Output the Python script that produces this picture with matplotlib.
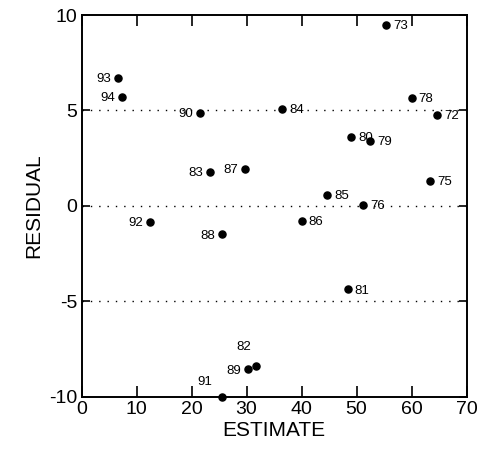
import matplotlib.pyplot as plt

# residuals vs estimate, labelled by id
ids = ['93', '94', '90', '84', '73', '78', '72', '80', '79', '83', '87', '85',
       '76', '75', '92', '88', '86', '81', '82', '89', '91']
estimate = [6.6, 7.3, 21.5, 36.5, 55.4, 60.0, 64.7, 49.0, 52.5, 23.3, 29.7, 44.7,
            51.2, 63.4, 12.5, 25.6, 40.0, 48.4, 31.8, 30.2, 25.6]
residual = [6.72, 5.72, 4.88, 5.09, 9.5, 5.67, 4.78, 3.62, 3.41, 1.78, 1.94, 0.58,
            0.05, 1.31, -0.82, -1.49, -0.79, -4.37, -8.38, -8.56, -10.0]
# where each label sits relative to its point
side = ['l', 'l', 'l', 'r', 'r', 'r', 'r', 'r', 'r', 'l', 'l', 'r',
        'r', 'r', 'l', 'l', 'r', 'r', 'u', 'l', 'ul']

ref_lines = [5, 0, -5]


def main():
    plt.rcParams['font.family'] = ['Liberation Sans', 'DejaVu Sans']
    plt.rcParams['axes.unicode_minus'] = False
    fig = plt.figure(figsize=(4.8, 4.58), dpi=100)
    ax = fig.add_axes([0.170, 0.134, 0.802, 0.833])

    for y in ref_lines:
        ax.axhline(y, color='black', lw=1.0, linestyle=(0, (1, 5)), zorder=1)

    ax.scatter(estimate, residual, s=26, color='black', zorder=3, clip_on=False)

    fs = 9.5
    for lab, x, y, s in zip(ids, estimate, residual, side):
        if s == 'r':
            ax.annotate(lab, (x, y), xytext=(5, -1), textcoords='offset points',
                        ha='left', va='center', fontsize=fs)
        elif s == 'l':
            ax.annotate(lab, (x, y), xytext=(-5, -1), textcoords='offset points',
                        ha='right', va='center', fontsize=fs)
        elif s == 'u':
            ax.annotate(lab, (x, y), xytext=(-4, 9), textcoords='offset points',
                        ha='right', va='bottom', fontsize=fs)
        else:
            ax.annotate(lab, (x, y), xytext=(-7, 6), textcoords='offset points',
                        ha='right', va='bottom', fontsize=fs)

    ax.set_xlim(0, 70)
    ax.set_ylim(-10, 10)
    ax.set_xticks(range(0, 71, 10))
    ax.set_yticks([-10, -5, 0, 5, 10])
    ax.tick_params(axis='x', direction='in', length=8, width=1.2, top=True,
                   labelsize=14, pad=3)
    ax.tick_params(axis='y', direction='in', length=6, width=1.2, right=True,
                   labelsize=14, pad=3)
    for sp in ax.spines.values():
        sp.set_linewidth(1.4)

    ax.set_xlabel('ESTIMATE', fontsize=15, labelpad=2)
    ax.set_ylabel('RESIDUAL', fontsize=15, labelpad=4)

    fig.savefig('out.png', dpi=100)


if __name__ == "__main__":
    main()
